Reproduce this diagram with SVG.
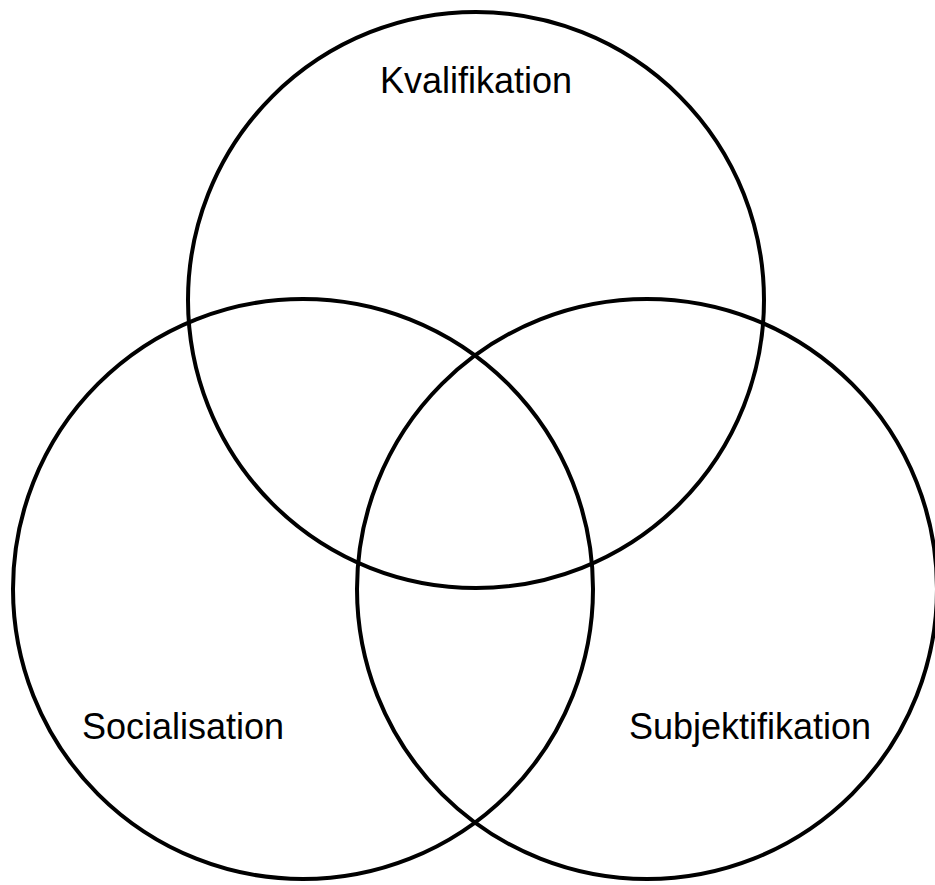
<svg xmlns="http://www.w3.org/2000/svg" width="935" height="885" viewBox="0 0 935 885">
<style>
.c{fill:none;stroke:#000;stroke-width:4}
.t{font-family:"Liberation Sans",Arial,sans-serif;font-size:36px;fill:#000;text-anchor:middle}
</style>
<rect width="935" height="885" fill="#fff"/>
<g id="kvalifikation"><circle class="c" cx="476" cy="300" r="288"/><text class="t" x="476" y="93">Kvalifikation</text></g>
<g id="socialisation"><circle class="c" cx="303" cy="589" r="290"/><text class="t" x="183" y="739">Socialisation</text></g>
<g id="subjektifikation"><circle class="c" cx="647" cy="589" r="290"/><text class="t" x="750" y="739">Subjektifikation</text></g>
<g id="connectors"></g>
</svg>
